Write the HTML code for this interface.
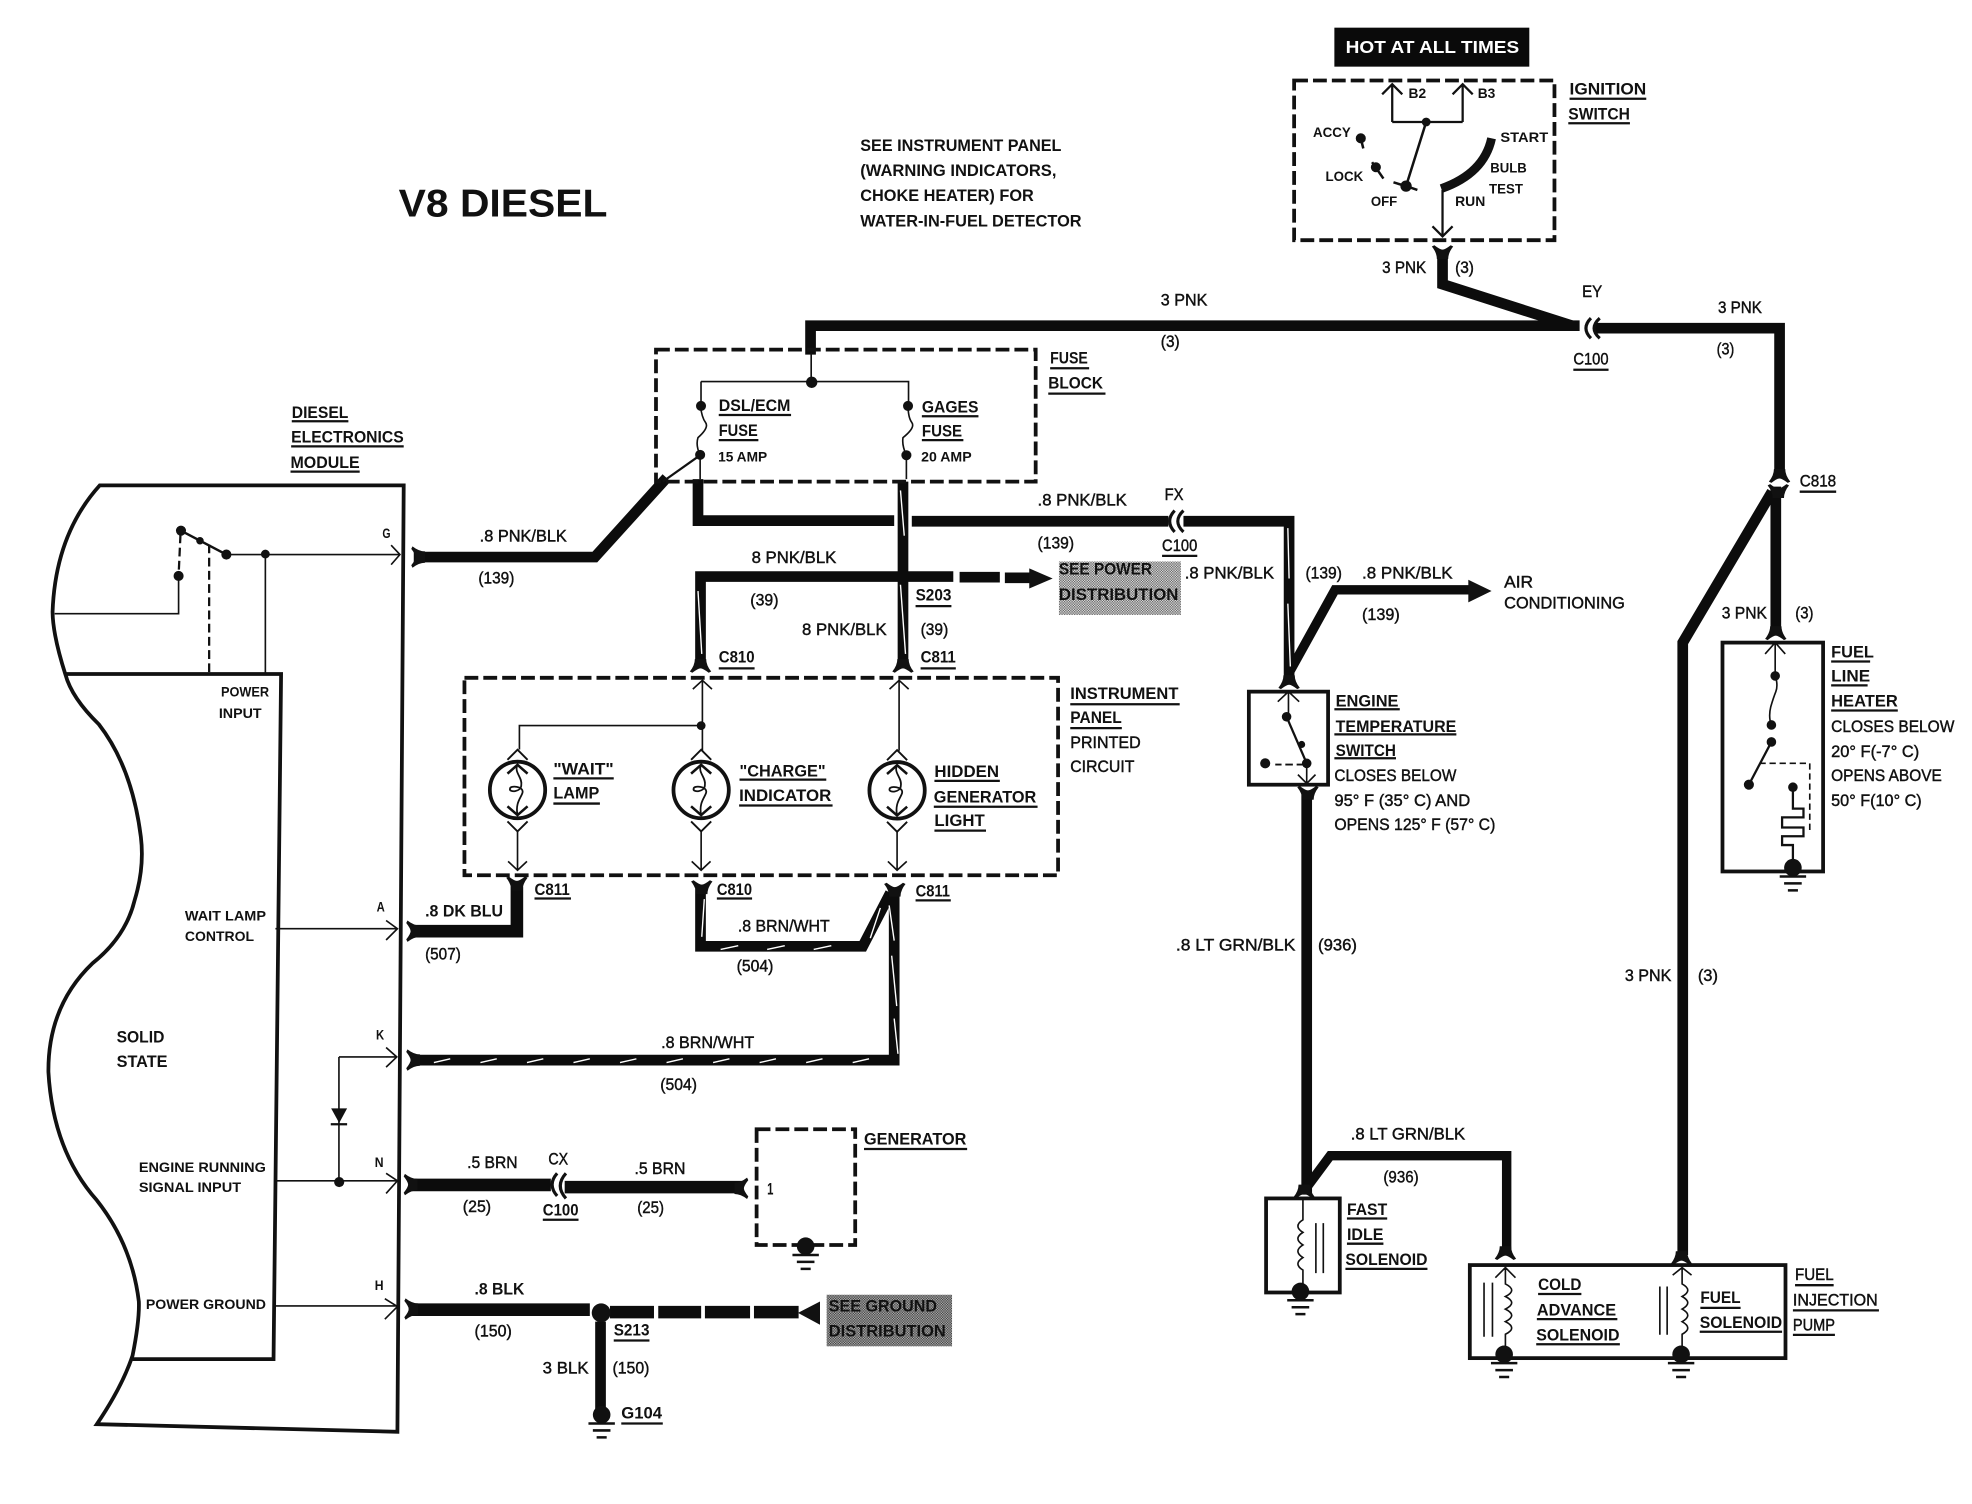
<!DOCTYPE html>
<html><head><meta charset="utf-8"><title>V8 Diesel wiring diagram</title>
<style>
html,body{margin:0;padding:0;background:#fff}
svg{display:block}
text{font-family:"Liberation Sans",sans-serif;fill:#111}
.t{font-size:13.5px;stroke:#111;stroke-width:.35px}
.b{font-size:13.5px;font-weight:bold}
.s{font-size:11px;font-weight:bold}
.u{fill:none;stroke:#111;stroke-width:1.8}
.w{fill:none;stroke:#0c0c0c;stroke-width:8.5;stroke-linejoin:miter}
.l{fill:none;stroke:#111;stroke-width:1.3}
.m{fill:none;stroke:#111;stroke-width:3}
.d{fill:none;stroke:#111;stroke-width:3;stroke-dasharray:11 4}
.st{fill:none;stroke:#fff;stroke-width:1.1}
</style></head><body>
<svg xmlns="http://www.w3.org/2000/svg" width="1972" height="1504" viewBox="0 0 1568 1196" preserveAspectRatio="none">
<defs>
<pattern id="h1" width="2" height="2" patternUnits="userSpaceOnUse"><rect width="2" height="2" fill="#ddd"/><rect width="1" height="1" fill="#666"/><rect x="1" y="1" width="1" height="1" fill="#666"/></pattern>
<pattern id="h2" width="2" height="2" patternUnits="userSpaceOnUse"><rect width="2" height="2" fill="#aaa"/><rect width="1" height="1" fill="#444"/><rect x="1" y="1" width="1" height="1" fill="#444"/></pattern>
<path id="fk" d="M-8.500-3L-6.500-4Q-2-.5 0-.5Q2-.5 6.500-4L8.500-3Q4.500 2 4.500 7H-4.500Q-4.500 2-8.500-3Z" fill="#111"/>
<g id="gnd"><circle r="7" fill="#111"/><path d="M-10.500 7H10.500M-7 12.500H7M-4 18H4" stroke="#111" stroke-width="2" fill="none"/></g>
<g id="bulb" fill="none" stroke="#111"><ellipse rx="22" ry="22.500" stroke-width="3"/><path d="M-8-13L0-20L8-13M-8 13L0 20L8 13" stroke-width="2"/><path d="M0-20C-3-14 4-10 3-4C3 2-7 2-6-1C-6-4 5-3 4 2C3 6-2 10 0 20" stroke-width="1.400"/><path d="M-8-24L0-32L8-24M-8 25L0 33L8 25" stroke-width="1.500"/></g>
</defs>

<!-- title + notes -->
<text x="317" y="172" textLength="166" lengthAdjust="spacingAndGlyphs" style="font-size:31px;font-weight:bold">V8 DIESEL</text>
<text class="b" x="684" y="120" textLength="160" lengthAdjust="spacingAndGlyphs">SEE INSTRUMENT PANEL</text>
<text class="b" x="684" y="140" textLength="156" lengthAdjust="spacingAndGlyphs">(WARNING INDICATORS,</text>
<text class="b" x="684" y="160" textLength="138" lengthAdjust="spacingAndGlyphs">CHOKE HEATER) FOR</text>
<text class="b" x="684" y="180" textLength="176" lengthAdjust="spacingAndGlyphs">WATER-IN-FUEL DETECTOR</text>

<!-- hot at all times / ignition -->
<rect x="1061" y="22" width="155" height="31" fill="#0a0a0a"/>
<text x="1070" y="42" textLength="138" lengthAdjust="spacingAndGlyphs" style="font-size:14px;font-weight:bold;fill:#fff">HOT AT ALL TIMES</text>
<rect class="d" x="1029" y="64" width="207" height="127"/>
<path class="l" style="stroke-width:1.800" d="M1107 97H1163M1107 97V67M1163 97V67M1099 75L1107 67L1115 75M1155 75L1163 67L1171 75M1147 151V188M1139 180L1147 188L1155 180"/>
<path class="l" style="stroke-width:2" d="M1134 97L1118 148M1108 145L1118 148L1127 151M1082 110L1084 118M1091 129L1100 142"/>
<circle cx="1134" cy="97" r="3.500" fill="#111"/><circle cx="1118" cy="148" r="4.500" fill="#111"/><circle cx="1082" cy="110" r="4" fill="#111"/><circle cx="1094" cy="133" r="4" fill="#111"/>
<path d="M1186 110Q1180 138 1146 150" fill="none" stroke="#111" stroke-width="7"/>
<text class="s" x="1120" y="78" textLength="14" lengthAdjust="spacingAndGlyphs">B2</text>
<text class="s" x="1175" y="78" textLength="14" lengthAdjust="spacingAndGlyphs">B3</text>
<text class="s" x="1044" y="109" textLength="30" lengthAdjust="spacingAndGlyphs">ACCY</text>
<text class="s" x="1054" y="144" textLength="30" lengthAdjust="spacingAndGlyphs">LOCK</text>
<text class="s" x="1090" y="164" textLength="21" lengthAdjust="spacingAndGlyphs">OFF</text>
<text class="s" x="1193" y="113" textLength="38" lengthAdjust="spacingAndGlyphs">START</text>
<text class="s" x="1185" y="137" textLength="29" lengthAdjust="spacingAndGlyphs">BULB</text>
<text class="s" x="1184" y="154" textLength="27" lengthAdjust="spacingAndGlyphs">TEST</text>
<text class="s" x="1157" y="164" textLength="24" lengthAdjust="spacingAndGlyphs">RUN</text>
<text class="b" x="1248" y="75" textLength="61" lengthAdjust="spacingAndGlyphs">IGNITION</text>
<text class="b" x="1247" y="95" textLength="49" lengthAdjust="spacingAndGlyphs">SWITCH</text>

<!-- main wires -->
<g class="w">
<path class="w" d="M1147 203V226L1250 259"/>
<path class="w" d="M644.500 282V259H1256"/>
<path class="w" d="M1268 261H1415V376"/>
<path class="w" d="M1412 387V502"/>
<path class="w" style="stroke-width:8.500" d="M1409 391L1338 511V998"/>
<path class="w" d="M329 443H473L530 380"/>
<path class="w" d="M555 381V414H711"/>
<path class="w" d="M725 414.500H929"/>
<path class="w" d="M941 414.500H1025V540"/>
<path class="w" d="M718 383V530"/>
<path class="w" d="M557 530V458.500H758"/>
<path class="w" d="M763 459H795M799 459.500H819"/>
<path class="w" style="stroke-width:7.500" d="M1025 535L1061.500 469H1170"/>
<path class="w" d="M1039 632V950"/>
<path class="w" style="stroke-width:7.500" d="M1037.700 946L1057.700 919H1198V995"/>
<path class="w" style="stroke-width:10" d="M329 740.500H411V705"/>
<path class="w" d="M557 707V752.500H686L708 710"/>
<path class="w" d="M711 710V843H329"/>
<path class="w" style="stroke-width:10" d="M326 942.300H438"/>
<path class="w" style="stroke-width:10" d="M449 944H590"/>
<path class="w" style="stroke-width:10" d="M325 1041.500H469"/>
<path class="w" style="stroke-width:10" d="M485 1043.400H520M523.400 1043.400H557.500M560.500 1043.400H596.400M599.500 1043.400H635"/>
<path class="w" d="M477.500 1051V1121"/>
</g>
<path d="M556.700 362L527 383" fill="none" stroke="#111" stroke-width="1.800"/>
<path d="M818.400 452L837 460L818.400 468Z" fill="#111"/>
<path d="M1167.500 461L1186 470L1167.500 479Z" fill="#111"/>
<path d="M634.500 1044L652 1035V1053.500Z" fill="#111"/>

<!-- twisted stripes -->
<path class="st" d="M345 845l13-3M382 845l13-3M419 845l13-3M456 845l13-3M493 845l13-3M530 845l13-3M567 845l13-3M604 845l13-3M641 845l13-3M678 845l13-3"/>
<path class="st" d="M573 755l14-3M610 755l14-3M647 755l14-3M560 715l-2 30M707 720l4 28M709 760l4 40M711 810l3 28M700 722l-8 24M716 390l3 36M716 465l4 55M555 470l3 50M1024 420l1 40M1024 480l2 50"/>

<!-- connector arcs -->
<path d="M1265 253Q1257 261 1265 269M1272 253Q1263 261 1272 269M934 406Q926 414.500 934 423M941 406Q932 414.500 941 423M443 933Q435 942 443 951M450 933Q441 943 450 953" fill="none" stroke="#111" stroke-width="2.500"/>

<!-- forks -->
<use href="#fk" transform="translate(1147 199)"/>
<use href="#fk" transform="translate(1415 380) rotate(180)"/>
<use href="#fk" transform="translate(1414 389)"/>
<use href="#fk" transform="translate(1412 505) rotate(180)"/>
<use href="#fk" transform="translate(718 531) rotate(180)"/>
<use href="#fk" transform="translate(557 531) rotate(180)"/>
<use href="#fk" transform="translate(1025 544) rotate(180)"/>
<use href="#fk" transform="translate(1040 629)"/>
<use href="#fk" transform="translate(1037 949) rotate(180)"/>
<use href="#fk" transform="translate(1197 998) rotate(180)"/>
<use href="#fk" transform="translate(1337 1002) rotate(180)"/>
<use href="#fk" transform="translate(411 701)"/>
<use href="#fk" transform="translate(558 704)"/>
<use href="#fk" transform="translate(711.500 706)"/>
<use href="#fk" transform="translate(331 443) rotate(-90)"/>
<use href="#fk" transform="translate(327 740.500) rotate(-90)"/>
<use href="#fk" transform="translate(327 843) rotate(-90)"/>
<use href="#fk" transform="translate(325 942) rotate(-90)"/>
<use href="#fk" transform="translate(325.500 1041) rotate(-90)"/>
<use href="#fk" transform="translate(591 945) rotate(90)"/>

<!-- module outline -->
<path class="m" d="M79.300 386H321L316 1138.600L77 1132.500Q97 1103 105.400 1078Q111 1050 110.400 1035Q105 990 77 954.500Q42 915 38.500 852.500Q38 800 73.600 766Q100 745 107 716Q115 690 112 665.500Q105 610 78.600 576Q57 555 52 536.300Q42 505 41.800 486.600Q44 425 79.300 386Z"/>
<path class="m" d="M52 536H223.500L217.500 1080.800H105.400"/>
<path class="l" d="M180 441H318M311 433.500L318 441L311 449M211 441V536M142 458V488H43.500M219 738.500H316M307 732L316 738.500L307 747.500M269.500 840.500H315.500M307 833L315.500 840.500L307 848.600M269.500 840.500V939M219 939H316M307 933L316 939L307 949M219 1038.500H316M306 1032.700L316 1039L306 1049"/>
<path d="M143.900 422L180 441" fill="none" stroke="#111" stroke-width="2"/>
<path d="M166.300 433V536M143.500 425L142 458" fill="none" stroke="#111" stroke-width="1.800" stroke-dasharray="7 3.500"/>
<circle cx="143.900" cy="422" r="4" fill="#111"/><circle cx="159" cy="430" r="3" fill="#111"/><circle cx="180" cy="441" r="4" fill="#111"/><circle cx="211" cy="440.600" r="3.500" fill="#111"/><circle cx="142" cy="458" r="4" fill="#111"/><circle cx="269.700" cy="940" r="4" fill="#111"/>
<path d="M263.300 881.400H276L269.700 893Z" fill="#111"/><path d="M263 894H276" stroke="#111" stroke-width="1.800"/>

<!-- fuse block -->
<rect class="d" x="521.600" y="278" width="301.900" height="105"/>
<path class="l" d="M645 281V304M557.400 303.400H722.400V322M557.400 303.400V323"/>
<path class="l" d="M557 323Q558 332 561 336T555 348Q553 354 556.700 362V381M722 322Q722 332 725 336T718 348Q717 354 720.700 362V381"/>
<circle cx="645.400" cy="304" r="4.500" fill="#111"/><circle cx="557.400" cy="322.800" r="4" fill="#111"/><circle cx="556.700" cy="361.700" r="4" fill="#111"/><circle cx="722" cy="322.800" r="4" fill="#111"/><circle cx="720.700" cy="362" r="4" fill="#111"/>

<!-- instrument panel -->
<rect class="d" x="369.300" y="539" width="472" height="157"/>
<path class="l" d="M558.500 541V597M550.900 548L558.500 541L566.100 548M714.900 541V597M707.300 548L714.900 541L722.500 548M413 596V577H557.500M411.500 661V692M404 685L411.500 692L419 685M557.500 661V692M550 685L557.500 692L565 685M713.300 661V692M706 685L713.300 692L721 685"/>
<circle cx="557.500" cy="577" r="3.500" fill="#111"/>
<use href="#bulb" transform="translate(411.500 628.200)"/>
<use href="#bulb" transform="translate(557.500 628.200)"/>
<use href="#bulb" transform="translate(713.300 628.500)"/>

<!-- engine temp switch -->
<rect class="m" x="993" y="550" width="63" height="74"/>
<path class="l" d="M1024.500 551V570M1016 558L1024.500 550L1033 558M1039 607V623M1032 616L1039 623L1046 616"/>
<path d="M1023 570L1039 607" fill="none" stroke="#111" stroke-width="1.800"/>
<path d="M1037 608H1014" fill="none" stroke="#111" stroke-width="1.500" stroke-dasharray="6 3"/>
<circle cx="1023" cy="570" r="3.800" fill="#111"/><circle cx="1035" cy="592" r="2.800" fill="#111"/><circle cx="1039" cy="607" r="3.800" fill="#111"/><circle cx="1006" cy="607" r="4" fill="#111"/>

<!-- fuel line heater -->
<rect class="m" x="1369.600" y="511" width="80" height="182"/>
<path class="l" d="M1411.500 511V537M1403.500 520L1411.500 511L1419.500 520M1411.500 537Q1414 545 1412 550T1408 562Q1406 570 1408.500 577"/>
<path d="M1408.500 590L1390.600 624" fill="none" stroke="#111" stroke-width="1.800"/>
<path d="M1399 607H1439V660" fill="none" stroke="#111" stroke-width="1.300" stroke-dasharray="5 3"/>
<path d="M1425.600 626V643H1434V650H1417V658H1434V665H1417V672H1425.600V690" fill="none" stroke="#111" stroke-width="1.800"/>
<circle cx="1411.500" cy="537.500" r="3.800" fill="#111"/><circle cx="1408.500" cy="576.500" r="3.800" fill="#111"/><circle cx="1408.500" cy="590" r="3.800" fill="#111"/><circle cx="1390.600" cy="624" r="4" fill="#111"/><circle cx="1425.600" cy="626" r="3.800" fill="#111"/>
<use href="#gnd" transform="translate(1425.600 690)"/>

<!-- generator -->
<rect class="d" x="601.600" y="898" width="78.400" height="92"/>
<use href="#gnd" transform="translate(640.600 991)"/>
<circle cx="478" cy="1044" r="7.500" fill="#111"/>
<use href="#gnd" transform="translate(478.400 1125)"/>

<!-- solenoids -->
<rect class="m" x="1006.700" y="953" width="58.600" height="74.800"/>
<path class="l" d="M1036 954V970q-8 5 0 10q-8 5 0 10q-8 5 0 10q-8 5 0 10V1022M1046.300 972.600V1012.400M1052.200 972.600V1012.400"/>
<use href="#gnd" transform="translate(1034 1027)"/>
<rect class="m" x="1168.700" y="1006" width="251" height="74"/>
<path class="l" d="M1197 1008V1021q10 5 0 10q10 5 0 10q10 5 0 10q10 5 0 10V1072M1189 1016L1197 1008L1205 1016M1180 1020V1063M1186.700 1020V1063"/>
<path class="l" d="M1337.500 1008V1021q9 5 0 10q9 5 0 10q9 5 0 10q9 5 0 10V1072M1330 1014L1337.500 1008L1345 1014M1319.800 1023V1061.400M1325.600 1023V1061.400"/>
<use href="#gnd" transform="translate(1196 1077)"/>
<use href="#gnd" transform="translate(1336.700 1077)"/>

<!-- halftone labels -->
<rect x="842" y="446.500" width="97" height="42.500" fill="url(#h1)"/>
<rect x="657.300" y="1029.600" width="99.700" height="41" fill="url(#h2)"/>
<text class="b" x="842" y="457" textLength="74" lengthAdjust="spacingAndGlyphs">SEE POWER</text>
<text class="b" x="842" y="477" textLength="95" lengthAdjust="spacingAndGlyphs">DISTRIBUTION</text>
<text class="b" x="659" y="1043" textLength="86" lengthAdjust="spacingAndGlyphs">SEE GROUND</text>
<text class="b" x="659" y="1063" textLength="93" lengthAdjust="spacingAndGlyphs">DISTRIBUTION</text>

<!-- underlines -->
<path class="u" d="M1248 78.500H1309M1247 98H1296M1251 294H1279M232 335H277M231.500 355H321M231 375H286M835 292.800H866M833.500 313H879M571.500 330H629M571.500 350H603M733 331H778M733 350H766M728 482H756.500M571.500 531.500H600M732 531.500H760M924 442H952M1431 391H1460M851 560H938M851 579H892M1061 564H1113M1061 584H1158M1061 603H1110M1456 526H1487M1456 545H1485M1456 565H1509M440 619H488M440 639H477M588 620H657M587.700 640.500H662M743 621H795M742.500 641.500H825M743 660.500H784M425 714.500H454M570 714.500H598M728 716H756M431.600 970H460M687 913.700H769M488 1066H516.400M494 1132H527M1071 969H1103M1071 989H1100M1069.800 1009H1135M1223 1029H1257.400M1222 1049H1286M1221.500 1069H1288M1352 1040H1384M1351.500 1059H1417M1427.300 1022H1458M1425.600 1042H1494M1425.600 1061.500H1459"/>

<!-- module labels -->
<text class="b" x="232" y="332.400" textLength="45" lengthAdjust="spacingAndGlyphs">DIESEL</text>
<text class="b" x="231.500" y="352" textLength="89.500" lengthAdjust="spacingAndGlyphs">ELECTRONICS</text>
<text class="b" x="231" y="372" textLength="55" lengthAdjust="spacingAndGlyphs">MODULE</text>
<text class="s" x="304" y="428" textLength="6.500" lengthAdjust="spacingAndGlyphs">G</text>
<text class="s" x="175.700" y="554" textLength="38.300" lengthAdjust="spacingAndGlyphs">POWER</text>
<text class="s" x="174" y="571" textLength="34" lengthAdjust="spacingAndGlyphs">INPUT</text>
<text class="s" x="147" y="732" textLength="64.500" lengthAdjust="spacingAndGlyphs">WAIT LAMP</text>
<text class="s" x="147" y="748.500" textLength="55" lengthAdjust="spacingAndGlyphs">CONTROL</text>
<text class="s" x="299.500" y="725" textLength="6.500" lengthAdjust="spacingAndGlyphs">A</text>
<text class="b" x="92.700" y="829" textLength="38" lengthAdjust="spacingAndGlyphs">SOLID</text>
<text class="b" x="92.700" y="848.600" textLength="40.500" lengthAdjust="spacingAndGlyphs">STATE</text>
<text class="s" x="299" y="826.700" textLength="6.500" lengthAdjust="spacingAndGlyphs">K</text>
<text class="s" x="298" y="928" textLength="7" lengthAdjust="spacingAndGlyphs">N</text>
<text class="s" x="110.400" y="932" textLength="101" lengthAdjust="spacingAndGlyphs">ENGINE RUNNING</text>
<text class="s" x="110.400" y="948" textLength="81.300" lengthAdjust="spacingAndGlyphs">SIGNAL INPUT</text>
<text class="s" x="298" y="1026" textLength="7" lengthAdjust="spacingAndGlyphs">H</text>
<text class="s" x="116" y="1041" textLength="95.500" lengthAdjust="spacingAndGlyphs">POWER GROUND</text>

<!-- wire labels -->
<text class="t" x="923" y="243" textLength="37" lengthAdjust="spacingAndGlyphs">3 PNK</text>
<text class="t" x="923" y="276" textLength="15" lengthAdjust="spacingAndGlyphs">(3)</text>
<text class="t" x="1099" y="217" textLength="35" lengthAdjust="spacingAndGlyphs">3 PNK</text>
<text class="t" x="1157" y="217" textLength="15" lengthAdjust="spacingAndGlyphs">(3)</text>
<text class="t" x="1258" y="236" textLength="16" lengthAdjust="spacingAndGlyphs">EY</text>
<text class="t" x="1251" y="290" textLength="28" lengthAdjust="spacingAndGlyphs">C100</text>
<text class="t" x="1366" y="249" textLength="35" lengthAdjust="spacingAndGlyphs">3 PNK</text>
<text class="t" x="1365" y="282" textLength="14" lengthAdjust="spacingAndGlyphs">(3)</text>
<text class="t" x="1431" y="387" textLength="29" lengthAdjust="spacingAndGlyphs">C818</text>
<text class="t" x="1369" y="492" textLength="36" lengthAdjust="spacingAndGlyphs">3 PNK</text>
<text class="t" x="1427.500" y="492" textLength="14.500" lengthAdjust="spacingAndGlyphs">(3)</text>
<text class="t" x="1292" y="780" textLength="37" lengthAdjust="spacingAndGlyphs">3 PNK</text>
<text class="t" x="1350" y="780" textLength="16" lengthAdjust="spacingAndGlyphs">(3)</text>
<text class="t" x="381.400" y="430.600" textLength="69.300" lengthAdjust="spacingAndGlyphs">.8 PNK/BLK</text>
<text class="t" x="380.400" y="464" textLength="28.600" lengthAdjust="spacingAndGlyphs">(139)</text>
<text class="t" x="825" y="402" textLength="71" lengthAdjust="spacingAndGlyphs">.8 PNK/BLK</text>
<text class="t" x="825" y="436" textLength="29" lengthAdjust="spacingAndGlyphs">(139)</text>
<text class="t" x="926" y="397.500" textLength="15" lengthAdjust="spacingAndGlyphs">FX</text>
<text class="t" x="924" y="438" textLength="28" lengthAdjust="spacingAndGlyphs">C100</text>
<text class="t" x="597.600" y="447.800" textLength="67.400" lengthAdjust="spacingAndGlyphs">8 PNK/BLK</text>
<text class="t" x="596.600" y="481.500" textLength="22.400" lengthAdjust="spacingAndGlyphs">(39)</text>
<text class="b" x="728" y="477.500" textLength="28.500" lengthAdjust="spacingAndGlyphs">S203</text>
<text class="t" x="637.700" y="504.800" textLength="67.300" lengthAdjust="spacingAndGlyphs">8 PNK/BLK</text>
<text class="t" x="732" y="504.800" textLength="22" lengthAdjust="spacingAndGlyphs">(39)</text>
<text class="b" x="571.500" y="527" textLength="28.500" lengthAdjust="spacingAndGlyphs">C810</text>
<text class="b" x="732" y="527" textLength="28" lengthAdjust="spacingAndGlyphs">C811</text>
<text class="t" x="942" y="460" textLength="71" lengthAdjust="spacingAndGlyphs">.8 PNK/BLK</text>
<text class="t" x="1038" y="460" textLength="29" lengthAdjust="spacingAndGlyphs">(139)</text>
<text class="t" x="1083" y="460" textLength="72" lengthAdjust="spacingAndGlyphs">.8 PNK/BLK</text>
<text class="t" x="1083" y="493" textLength="30" lengthAdjust="spacingAndGlyphs">(139)</text>
<text class="t" x="1196" y="467" textLength="23" lengthAdjust="spacingAndGlyphs">AIR</text>
<text class="t" x="1196" y="484" textLength="96" lengthAdjust="spacingAndGlyphs">CONDITIONING</text>
<text class="t" x="935" y="756" textLength="95" lengthAdjust="spacingAndGlyphs">.8 LT GRN/BLK</text>
<text class="t" x="1048" y="756" textLength="31" lengthAdjust="spacingAndGlyphs">(936)</text>
<text class="t" x="1074" y="906" textLength="91" lengthAdjust="spacingAndGlyphs">.8 LT GRN/BLK</text>
<text class="t" x="1100" y="940.300" textLength="28" lengthAdjust="spacingAndGlyphs">(936)</text>
<text class="b" x="338" y="729" textLength="62" lengthAdjust="spacingAndGlyphs">.8 DK BLU</text>
<text class="t" x="338" y="763" textLength="28.400" lengthAdjust="spacingAndGlyphs">(507)</text>
<text class="b" x="425" y="711.600" textLength="28" lengthAdjust="spacingAndGlyphs">C811</text>
<text class="b" x="570" y="711.600" textLength="28" lengthAdjust="spacingAndGlyphs">C810</text>
<text class="b" x="728" y="713" textLength="27.400" lengthAdjust="spacingAndGlyphs">C811</text>
<text class="t" x="586.700" y="740.800" textLength="73" lengthAdjust="spacingAndGlyphs">.8 BRN/WHT</text>
<text class="t" x="585.700" y="772.600" textLength="29.300" lengthAdjust="spacingAndGlyphs">(504)</text>
<text class="t" x="525.700" y="833.500" textLength="74" lengthAdjust="spacingAndGlyphs">.8 BRN/WHT</text>
<text class="t" x="525" y="866.700" textLength="29.200" lengthAdjust="spacingAndGlyphs">(504)</text>
<text class="t" x="371.400" y="929" textLength="40.200" lengthAdjust="spacingAndGlyphs">.5 BRN</text>
<text class="t" x="368" y="963.600" textLength="22.500" lengthAdjust="spacingAndGlyphs">(25)</text>
<text class="t" x="436" y="926" textLength="15.700" lengthAdjust="spacingAndGlyphs">CX</text>
<text class="b" x="431.600" y="966.600" textLength="28.400" lengthAdjust="spacingAndGlyphs">C100</text>
<text class="t" x="504.500" y="933.400" textLength="40.500" lengthAdjust="spacingAndGlyphs">.5 BRN</text>
<text class="t" x="506.700" y="964.700" textLength="21.300" lengthAdjust="spacingAndGlyphs">(25)</text>
<text class="b" x="610" y="950" textLength="5" lengthAdjust="spacingAndGlyphs">1</text>
<text class="b" x="687" y="910" textLength="81.400" lengthAdjust="spacingAndGlyphs">GENERATOR</text>
<text class="b" x="377.300" y="1029.600" textLength="39.700" lengthAdjust="spacingAndGlyphs">.8 BLK</text>
<text class="t" x="377.300" y="1062.700" textLength="29.700" lengthAdjust="spacingAndGlyphs">(150)</text>
<text class="b" x="488" y="1062" textLength="28.400" lengthAdjust="spacingAndGlyphs">S213</text>
<text class="t" x="431.500" y="1092.400" textLength="36.500" lengthAdjust="spacingAndGlyphs">3 BLK</text>
<text class="t" x="487" y="1092.400" textLength="29.400" lengthAdjust="spacingAndGlyphs">(150)</text>
<text class="b" x="494" y="1128" textLength="32.400" lengthAdjust="spacingAndGlyphs">G104</text>

<!-- fuse labels -->
<text class="b" x="835" y="289" textLength="30" lengthAdjust="spacingAndGlyphs">FUSE</text>
<text class="b" x="833.500" y="309" textLength="43.500" lengthAdjust="spacingAndGlyphs">BLOCK</text>
<text class="b" x="571.500" y="327" textLength="57" lengthAdjust="spacingAndGlyphs">DSL/ECM</text>
<text class="b" x="571.500" y="346.600" textLength="31" lengthAdjust="spacingAndGlyphs">FUSE</text>
<text class="s" x="571" y="367" textLength="39" lengthAdjust="spacingAndGlyphs">15 AMP</text>
<text class="b" x="733" y="328" textLength="45" lengthAdjust="spacingAndGlyphs">GAGES</text>
<text class="b" x="733" y="347" textLength="32" lengthAdjust="spacingAndGlyphs">FUSE</text>
<text class="s" x="732.400" y="367" textLength="40.200" lengthAdjust="spacingAndGlyphs">20 AMP</text>

<!-- panel labels -->
<text class="b" x="851" y="556" textLength="86" lengthAdjust="spacingAndGlyphs">INSTRUMENT</text>
<text class="b" x="851" y="575" textLength="41" lengthAdjust="spacingAndGlyphs">PANEL</text>
<text class="t" x="851" y="595" textLength="56" lengthAdjust="spacingAndGlyphs">PRINTED</text>
<text class="t" x="851" y="614" textLength="51" lengthAdjust="spacingAndGlyphs">CIRCUIT</text>
<text class="b" x="440" y="616" textLength="48" lengthAdjust="spacingAndGlyphs">"WAIT"</text>
<text class="b" x="440" y="635" textLength="36.500" lengthAdjust="spacingAndGlyphs">LAMP</text>
<text class="b" x="588" y="617.500" textLength="68.500" lengthAdjust="spacingAndGlyphs">"CHARGE"</text>
<text class="b" x="587.700" y="637" textLength="73.300" lengthAdjust="spacingAndGlyphs">INDICATOR</text>
<text class="b" x="743" y="618" textLength="51.400" lengthAdjust="spacingAndGlyphs">HIDDEN</text>
<text class="b" x="742.500" y="638" textLength="81.500" lengthAdjust="spacingAndGlyphs">GENERATOR</text>
<text class="b" x="743" y="657" textLength="40" lengthAdjust="spacingAndGlyphs">LIGHT</text>

<!-- engine temp labels -->
<text class="b" x="1062" y="562" textLength="50" lengthAdjust="spacingAndGlyphs">ENGINE</text>
<text class="b" x="1062" y="582" textLength="96" lengthAdjust="spacingAndGlyphs">TEMPERATURE</text>
<text class="b" x="1062" y="601" textLength="48" lengthAdjust="spacingAndGlyphs">SWITCH</text>
<text class="t" x="1061" y="621" textLength="97" lengthAdjust="spacingAndGlyphs">CLOSES BELOW</text>
<text class="t" x="1061" y="641" textLength="108" lengthAdjust="spacingAndGlyphs">95° F (35° C) AND</text>
<text class="t" x="1061" y="660" textLength="128" lengthAdjust="spacingAndGlyphs">OPENS 125° F (57° C)</text>

<!-- heater labels -->
<text class="b" x="1456" y="523" textLength="34" lengthAdjust="spacingAndGlyphs">FUEL</text>
<text class="b" x="1456" y="542" textLength="31" lengthAdjust="spacingAndGlyphs">LINE</text>
<text class="b" x="1456" y="562" textLength="53" lengthAdjust="spacingAndGlyphs">HEATER</text>
<text class="t" x="1456" y="582" textLength="98" lengthAdjust="spacingAndGlyphs">CLOSES BELOW</text>
<text class="t" x="1456" y="602" textLength="70" lengthAdjust="spacingAndGlyphs">20° F(-7° C)</text>
<text class="t" x="1456" y="621" textLength="88" lengthAdjust="spacingAndGlyphs">OPENS ABOVE</text>
<text class="t" x="1456" y="641" textLength="72" lengthAdjust="spacingAndGlyphs">50° F(10° C)</text>

<!-- solenoid labels -->
<text class="b" x="1071" y="966" textLength="32" lengthAdjust="spacingAndGlyphs">FAST</text>
<text class="b" x="1071" y="986" textLength="29" lengthAdjust="spacingAndGlyphs">IDLE</text>
<text class="b" x="1069.800" y="1005.800" textLength="65.200" lengthAdjust="spacingAndGlyphs">SOLENOID</text>
<text class="b" x="1223" y="1026" textLength="34.400" lengthAdjust="spacingAndGlyphs">COLD</text>
<text class="b" x="1222" y="1046" textLength="63" lengthAdjust="spacingAndGlyphs">ADVANCE</text>
<text class="b" x="1221.500" y="1066" textLength="66.200" lengthAdjust="spacingAndGlyphs">SOLENOID</text>
<text class="b" x="1352" y="1036" textLength="32" lengthAdjust="spacingAndGlyphs">FUEL</text>
<text class="b" x="1351.500" y="1056" textLength="65.500" lengthAdjust="spacingAndGlyphs">SOLENOID</text>
<text class="t" x="1427.300" y="1018" textLength="30.700" lengthAdjust="spacingAndGlyphs">FUEL</text>
<text class="t" x="1425.600" y="1038" textLength="67.400" lengthAdjust="spacingAndGlyphs">INJECTION</text>
<text class="t" x="1425.600" y="1058" textLength="33.400" lengthAdjust="spacingAndGlyphs">PUMP</text>
</svg>
</body></html>
